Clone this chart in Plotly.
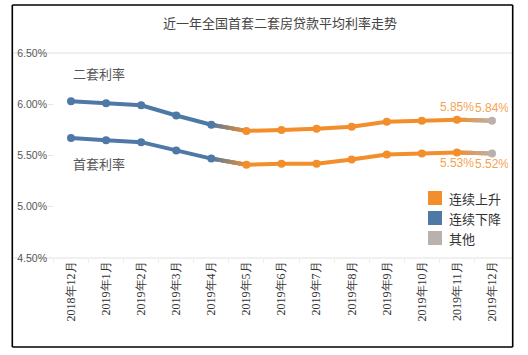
import plotly.graph_objects as go

months = ["2018年12月", "2019年1月", "2019年2月", "2019年3月", "2019年4月", "2019年5月",
          "2019年6月", "2019年7月", "2019年8月", "2019年9月", "2019年10月", "2019年11月", "2019年12月"]
first_home = [5.67, 5.65, 5.63, 5.55, 5.47, 5.41, 5.42, 5.42, 5.46, 5.51, 5.52, 5.53, 5.52]
second_home = [6.03, 6.01, 5.99, 5.89, 5.80, 5.74, 5.75, 5.76, 5.78, 5.83, 5.84, 5.85, 5.84]
trend = ["连续下降"] * 5 + ["连续上升"] * 7 + ["其他"]
legend_order = ["连续上升", "连续下降", "其他"]
y_ticks = [4.5, 5.0, 5.5, 6.0, 6.5]

COLORS = {"连续上升": "#F28E2B", "连续下降": "#4E79A7", "其他": "#BAB0AC"}
LABEL_COLOR = "#F5A253"

x = list(range(len(months)))


def hex2rgb(h):
    h = h.lstrip("#")
    return tuple(int(h[i:i + 2], 16) for i in (0, 2, 4))


def mix(c1, c2, t):
    a, b = hex2rgb(c1), hex2rgb(c2)
    return "rgb(%d,%d,%d)" % tuple(round(a[k] + (b[k] - a[k]) * t) for k in range(3))


fig = go.Figure()

for series in (first_home, second_home):
    for i in range(len(x) - 1):
        c1, c2 = COLORS[trend[i]], COLORS[trend[i + 1]]
        if c1 == c2:
            fig.add_trace(go.Scatter(x=[x[i], x[i + 1]], y=[series[i], series[i + 1]], mode="lines",
                                     line=dict(color=c1, width=4), showlegend=False, hoverinfo="skip"))
        else:
            # underlay to hide seams, then gradient pieces
            fig.add_trace(go.Scatter(x=[x[i], x[i + 1]], y=[series[i], series[i + 1]], mode="lines",
                                     line=dict(color=mix(c1, c2, 0.5), width=4),
                                     showlegend=False, hoverinfo="skip"))
            n = 10
            for k in range(n):
                t0, t1 = k / n, min((k + 1.3) / n, 1)
                fig.add_trace(go.Scatter(
                    x=[x[i] + (x[i + 1] - x[i]) * t0, x[i] + (x[i + 1] - x[i]) * t1],
                    y=[series[i] + (series[i + 1] - series[i]) * t0, series[i] + (series[i + 1] - series[i]) * t1],
                    mode="lines", line=dict(color=mix(c1, c2, (k + 0.5) / n), width=4),
                    showlegend=False, hoverinfo="skip"))

# markers and value labels
for series, pos in ((first_home, "bottom center"), (second_home, "top center")):
    n = len(series)
    texts = ["" if i < n - 2 else f"{v:.2f}%" for i, v in enumerate(series)]
    fig.add_trace(go.Scatter(
        x=x, y=series, mode="markers+text",
        marker=dict(size=8, color=[COLORS[t] for t in trend]),
        text=texts, textposition=pos,
        textfont=dict(family="Liberation Sans, Arial, sans-serif", size=12, color=LABEL_COLOR),
        showlegend=False, hoverinfo="skip"))

# pixel -> paper coordinates
PL, PW, PB, PH = 48, 460, 258, 205


def px(sx):
    return (sx - PL) / PW


def py(sy):
    return (PB - sy) / PH


# series name annotations
for name, sy in (("二套利率", 73), ("首套利率", 163)):
    fig.add_annotation(x=0, xref="x", xanchor="left", y=py(sy), yref="paper", yanchor="middle",
                       text=name, showarrow=False,
                       font=dict(family="Noto Sans CJK SC", size=13, color="#555555"))

# legend (drawn manually)
for j, name in enumerate(legend_order):
    cy = 198 + 20 * j
    fig.add_shape(type="rect", xref="paper", yref="paper",
                  x0=px(428), x1=px(442), y0=py(cy + 7), y1=py(cy - 7),
                  fillcolor=COLORS[name], line=dict(width=0))
    fig.add_annotation(x=px(447), xref="paper", xanchor="left",
                       y=py(cy), yref="paper", yanchor="middle",
                       text=name, showarrow=False,
                       font=dict(family="Noto Sans CJK SC", size=13, color="#333333"))

# top and bottom rules spanning the panel
for yy in (0, 1):
    fig.add_shape(type="line", xref="paper", yref="paper", x0=px(12), x1=px(513), y0=yy, y1=yy,
                  line=dict(color="#e2e2e2", width=1.2), layer="below")

# outer frame (four sides)
fx0, fx1, fy0, fy1 = px(12.3), px(512.7), py(347), py(5)
for (a, b, c, d) in ((fx0, fy0, fx0, fy1), (fx1, fy0, fx1, fy1), (fx0, fy0, fx1, fy0), (fx0, fy1, fx1, fy1)):
    fig.add_shape(type="line", xref="paper", yref="paper", x0=a, y0=b, x1=c, y1=d,
                  line=dict(color="#000000", width=1.6), layer="above")

W, H = 528, 355
fig.update_layout(
    width=W, height=H,
    margin=dict(l=PL, r=W - (PL + PW), t=PB - PH, b=H - PB),
    paper_bgcolor="white", plot_bgcolor="white",
    title=dict(text="近一年全国首套二套房贷款平均利率走势", x=280 / W, xref="container", xanchor="center",
               y=1 - 23 / H, yref="container", yanchor="middle",
               font=dict(family="Noto Sans CJK SC", size=13, color="#444444")),
    showlegend=False,
    hovermode=False,
    xaxis=dict(range=[-23 / 35.08, 12 + 16 / 35.08], tickmode="array", tickvals=x, ticktext=months,
               tickangle=-90, showgrid=False, zeroline=False, showline=False, ticks="",
               tickfont=dict(family="Liberation Serif, Times New Roman, serif", size=12, color="#333333"),
               minor=dict(tick0=0.5, dtick=1, ticks="outside", ticklen=4, tickcolor="#eeeeee", showgrid=False)),
    yaxis=dict(range=[4.5, 6.5], tickmode="array", tickvals=y_ticks,
               ticktext=[f"{v:.2f}%" for v in y_ticks],
               showgrid=False, zeroline=False, showline=False,
               ticks="inside", ticklen=5, tickcolor="#e6e6e6",
               tickfont=dict(family="Liberation Sans, Arial, sans-serif", size=10.5, color="#555555")),
)

fig.write_html("out.html", config={"displayModeBar": False},
               post_script="document.body.style.margin='0';document.body.style.overflow='hidden';")
